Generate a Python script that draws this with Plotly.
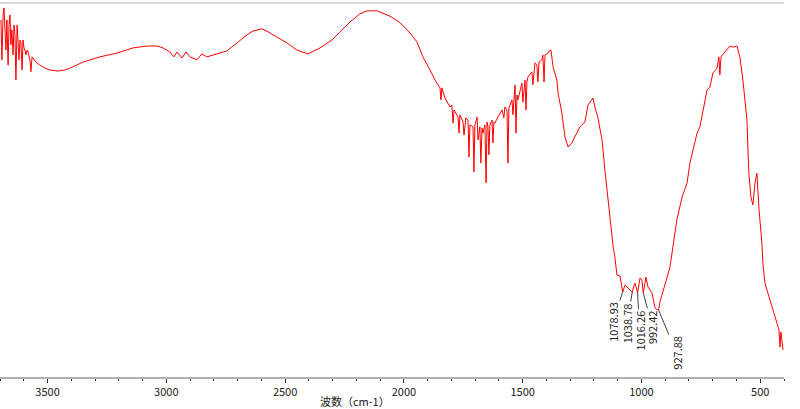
import plotly.graph_objects as go

# IR spectrum: wavenumber (cm-1) and transmittance (%T, arbitrary scale)
wavenumber = [
    3696, 3692, 3687, 3683, 3679, 3675, 3671, 3666, 3662, 3658, 3654, 3650, 3645, 3641, 3637, 3633,
    3628, 3624, 3620, 3616, 3612, 3607, 3603, 3599, 3595, 3591, 3586, 3582, 3578, 3574, 3570, 3565,
    3561, 3549, 3532, 3511, 3490, 3456, 3426, 3405, 3351, 3279, 3208, 3140, 3081, 3039, 3014, 2985,
    2968, 2955, 2934, 2917, 2900, 2871, 2850, 2829, 2787, 2745, 2703, 2660, 2635, 2597, 2572, 2534,
    2492, 2450, 2404, 2353, 2303, 2269, 2227, 2185, 2155, 2113, 2088, 2059, 2016, 1974, 1945, 1920,
    1890, 1869, 1848, 1844, 1840, 1827, 1806, 1798, 1793, 1789, 1772, 1768, 1764, 1751, 1747, 1739,
    1730, 1726, 1722, 1709, 1705, 1701, 1692, 1688, 1680, 1676, 1671, 1667, 1659, 1654, 1650, 1646,
    1642, 1638, 1629, 1625, 1621, 1617, 1604, 1587, 1579, 1575, 1566, 1562, 1558, 1545, 1541, 1532,
    1528, 1524, 1520, 1511, 1503, 1499, 1490, 1486, 1482, 1478, 1469, 1461, 1457, 1448, 1440, 1436,
    1431, 1419, 1415, 1410, 1406, 1394, 1385, 1381, 1372, 1356, 1351, 1335, 1322, 1309, 1293, 1280,
    1259, 1238, 1225, 1204, 1196, 1183, 1166, 1154, 1141, 1133, 1120, 1112, 1103, 1090, 1082, 1078.93,
    1069, 1057, 1038.78, 1031, 1027, 1016.26, 1006, 998, 992.42, 981, 973, 956, 943, 935, 927.88, 922,
    909, 893, 880, 867, 851, 829, 808, 796, 783, 766, 754, 741, 724, 712, 699, 682,
    674, 670, 665, 649, 627, 615, 598, 585, 573, 556, 548, 539, 531, 522, 514, 505,
    493, 489, 480, 468, 446, 430, 421, 417, 413, 409, 404,
]
transmittance = [
    95.5, 84.8, 96.8, 98.7, 92.8, 87.4, 95.5, 83.4, 94.1, 96.8, 88.8, 92.8, 86.1, 94.1, 91.5, 79.4,
    94.1, 88.8, 84.8, 90.1, 89.6, 82.1, 90.1, 88.0, 87.4, 86.1, 87.4, 86.9, 85.6, 84.8, 81.6, 85.6,
    85.3, 84.2, 83.4, 82.6, 82.1, 81.8, 82.1, 82.6, 84.2, 85.6, 86.6, 88.0, 88.5, 88.5, 88.0, 86.9,
    85.6, 86.9, 85.3, 86.9, 85.6, 84.8, 86.4, 85.6, 86.4, 87.2, 89.3, 91.5, 92.5, 93.1, 92.3, 90.9,
    89.3, 87.4, 86.4, 88.0, 90.1, 92.3, 94.9, 97.1, 97.9, 97.9, 97.3, 96.5, 94.7, 92.0, 89.6, 85.6,
    82.1, 79.4, 77.3, 74.1, 77.3, 74.6, 72.2, 72.7, 67.9, 71.4, 69.5, 65.2, 70.1, 68.2, 64.7, 69.3,
    68.7, 58.8, 67.4, 66.9, 54.8, 67.4, 69.5, 63.4, 66.9, 57.2, 66.6, 65.2, 67.4, 51.9, 68.2, 66.9,
    59.4, 67.4, 68.7, 62.6, 68.2, 67.9, 69.5, 71.4, 69.3, 72.2, 71.4, 57.2, 71.9, 74.1, 70.1, 78.1,
    65.2, 75.4, 74.1, 76.7, 78.6, 73.5, 79.4, 71.4, 78.9, 80.2, 80.8, 81.6, 78.1, 84.0, 83.4, 78.9,
    84.2, 84.8, 86.1, 78.9, 86.1, 86.6, 87.4, 87.4, 82.9, 79.4, 75.9, 70.6, 64.2, 61.5, 62.6, 64.2,
    66.9, 68.2, 72.7, 74.6, 72.2, 69.3, 63.4, 55.4, 48.1, 42.0, 35.3, 32.1, 27.3, 27.0, 23.3, 22.7,
    24.6, 23.8, 22.7, 24.6, 25.1, 22.5, 26.5, 25.9, 22.5, 26.7, 24.1, 22.5, 18.5, 18.0, 17.9, 20.1,
    23.3, 26.5, 29.4, 34.8, 42.0, 48.1, 51.9, 57.2, 60.7, 65.2, 66.9, 71.4, 76.7, 77.5, 81.3, 82.6,
    85.6, 80.8, 85.6, 86.9, 88.5, 88.2, 88.5, 85.3, 79.4, 68.7, 54.5, 48.1, 46.0, 51.9, 54.5, 44.7,
    35.8, 30.5, 25.1, 22.5, 17.9, 14.4, 12.6, 8.0, 12.0, 9.9, 7.2,
]

# labelled peaks
peak_wavenumber = [1078.93, 1038.78, 1016.26, 992.42, 927.88]
peak_transmittance = [22.7, 22.7, 22.5, 22.5, 17.9]
peak_labels = ["1078.93", "1038.78", "1016.26", "992.42", "927.88"]
label_dx = [-10, -5, 2, 9, 18]
label_dy = [30, 31, 38, 34, 43]

tick_values = [3500, 3000, 2500, 2000, 1500, 1000, 500]
tick_labels = ["3500", "3000", "2500", "2000", "1500", "1000", "500"]

FONT = "Noto Sans CJK SC"

fig = go.Figure()
fig.add_trace(go.Scatter(
    x=wavenumber, y=transmittance, mode="lines",
    line=dict(color="#ff0000", width=1), showlegend=False, hoverinfo="skip",
))

annotations = []
for wn, t, lab, dx, dy in zip(peak_wavenumber, peak_transmittance, peak_labels, label_dx, label_dy):
    annotations.append(dict(
        x=wn, y=t, xref="x", yref="y", text=lab, textangle=-90,
        showarrow=True, arrowhead=0, arrowwidth=1, arrowcolor="#404040",
        ax=dx, ay=dy, standoff=0,
        font=dict(family=FONT, size=11, color="#202020"),
    ))
annotations.append(dict(
    x=355 / 784, y=0, xref="paper", yref="paper", yshift=-24,
    text="波数（cm-1）", showarrow=False, xanchor="center", yanchor="middle",
    font=dict(family=FONT, size=11, color="#202020"),
))

fig.update_layout(
    width=800, height=409,
    margin=dict(l=0, r=16, t=3, b=32),
    paper_bgcolor="white", plot_bgcolor="white",
    annotations=annotations,
    xaxis=dict(
        range=[3700, 400], tickmode="array", tickvals=tick_values, ticktext=tick_labels,
        showgrid=False, zeroline=False,
        showline=True, linecolor="#b0b0b0", linewidth=2, mirror=False,
        ticks="outside", ticklen=4, tickcolor="#303030", tickwidth=1,
        tickfont=dict(family=FONT, size=11, color="#202020"),
        minor=dict(dtick=100, tick0=0, ticks="outside", ticklen=2, tickcolor="#303030", showgrid=False),
    ),
    yaxis=dict(
        range=[0, 100], showgrid=False, zeroline=False, showticklabels=False,
        showline=True, linecolor="#a8a8a8", linewidth=1, ticks="",
    ),
    shapes=[dict(type="line", xref="paper", yref="paper", x0=0, x1=1, y0=1, y1=1,
                 line=dict(color="#b0b0a8", width=1))],
)

fig.write_html(
    "out.html",
    config={"displayModeBar": False},
    post_script="document.body.style.margin='0';document.body.style.overflow='hidden';",
)
